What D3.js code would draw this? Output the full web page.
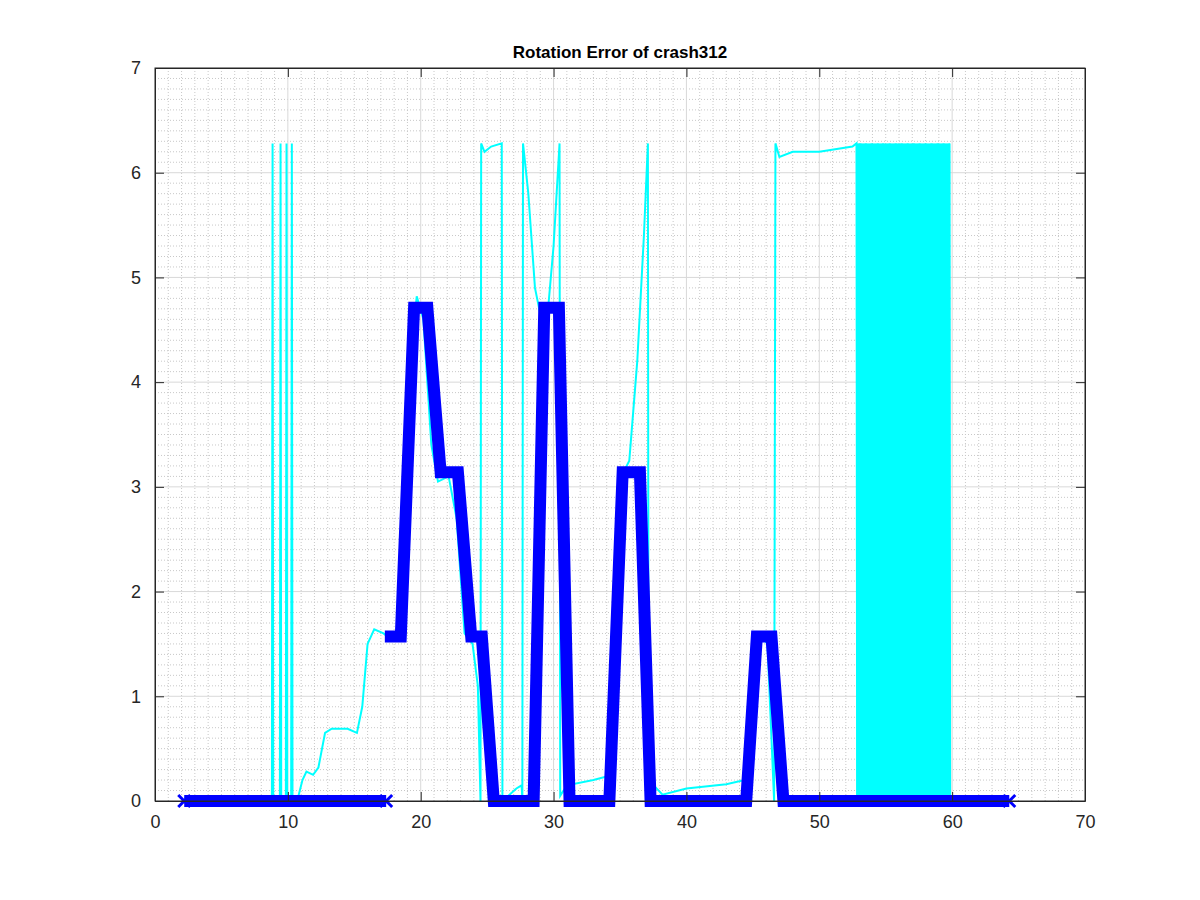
<!DOCTYPE html>
<html><head><meta charset="utf-8">
<script src="https://cdn.jsdelivr.net/npm/d3@7"></script>
<style>body{margin:0;background:#fff}</style></head>
<body><div id="wrapper"></div>
<script>
const title = "Rotation Error of crash312"
const xTicks = [0, 10, 20, 30, 40, 50, 60, 70]
const yTicks = [0, 1, 2, 3, 4, 5, 6, 7]

// reference (blue) - two pieces, gap between them
const refA = [[2.2, 0], [17.4, 0]]
const refB = [[17.3, 1.57], [18.5, 1.57], [19.5, 4.71], [20.5, 4.71], [21.5, 3.14], [22.8, 3.14],
  [23.8, 1.57], [24.6, 1.57], [25.5, 0], [28.5, 0], [29.3, 4.71], [30.4, 4.71], [31.2, 0],
  [34.2, 0], [35.2, 3.14], [36.5, 3.14], [37.3, 0], [44.5, 0], [45.3, 1.57], [46.4, 1.57],
  [47.3, 0], [64.3, 0]]

// estimate (cyan)
const est = [[2.2, 0.03], [8.0, 0.04], [8.8, 0.02], [8.85, 6.28], [8.9, 0.02], [9.4, 0.02], [9.45, 6.28],
  [9.5, 0.02], [9.85, 0.02], [9.9, 6.28], [9.95, 0.02], [10.25, 0.02], [10.3, 6.28], [10.35, 0.02],
  [10.8, 0.05], [11.1, 0.2], [11.4, 0.28], [11.9, 0.25], [12.3, 0.32], [12.8, 0.65], [13.3, 0.69],
  [14.5, 0.69], [15.2, 0.65], [15.6, 0.9], [16.0, 1.5], [16.5, 1.64], [17.2, 1.6], [17.7, 1.55],
  [18.3, 1.62], [18.8, 3.0], [19.3, 4.3], [19.7, 4.82], [20.2, 4.6], [20.8, 3.4], [21.3, 3.05],
  [22.1, 3.1], [22.7, 2.7], [23.3, 1.6], [23.9, 1.5], [24.3, 1.1], [24.5, 0.0], [24.55, 6.28],
  [24.8, 6.2], [25.3, 6.25], [26.1, 6.28], [26.15, 0.02], [26.6, 0.05], [27.2, 0.12], [27.6, 0.15],
  [27.65, 0.0], [27.7, 6.28], [28.1, 5.8], [28.6, 4.9], [29.0, 4.65], [29.6, 4.72], [30.0, 5.3],
  [30.45, 6.28], [30.5, 0.05], [31.0, 0.15], [33.0, 0.2], [34.5, 0.25], [35.1, 3.1], [35.7, 3.25],
  [36.3, 4.2], [36.8, 5.4], [37.1, 6.28], [37.15, 0.1], [37.6, 0.14], [38.2, 0.06], [40.0, 0.12],
  [43.0, 0.16], [44.4, 0.2], [44.9, 1.2], [45.4, 1.6], [46.1, 1.5], [46.5, 0.3], [46.6, 0.0],
  [46.7, 6.28], [47.0, 6.15], [48.0, 6.2], [50.0, 6.2], [52.5, 6.25], [52.8, 6.28],
  [52.85, 0], [53.1, 6.28], [53.3, 0], [53.5, 6.28], [53.7, 0], [53.95, 6.28], [54.2, 0],
  [54.4, 6.28], [54.6, 0], [54.8, 6.28], [55.1, 0], [55.3, 6.28], [55.5, 0], [55.75, 6.28],
  [56.0, 0], [56.2, 6.28], [56.4, 0], [56.65, 6.28], [56.9, 0], [57.1, 6.28], [57.3, 0],
  [57.55, 6.28], [57.8, 0], [58.0, 6.28], [58.2, 0], [58.45, 6.28], [58.7, 0], [58.9, 6.28],
  [59.1, 0], [59.35, 6.28], [59.6, 0], [59.8, 6.28], [59.85, 0], [64.3, 0]]
// filled-looking block of fast switching
const denseBlock = [52.8, 59.85]

const W = 1200, H = 900
const m = {left: 155, right: 1085, top: 68, bottom: 801}
const svg = d3.select("#wrapper").append("svg").attr("width", W).attr("height", H)
  .style("font-family", "Liberation Sans, Arial, sans-serif")

const x = d3.scaleLinear().domain([0, 70]).range([m.left, m.right])
const y = d3.scaleLinear().domain([0, 7]).range([m.bottom, m.top])

// minor grid
const grid = svg.append("g")
grid.selectAll(".mx").data(d3.range(1, 70).filter(d => d % 10)).join("line")
  .attr("x1", d => x(d)).attr("x2", d => x(d)).attr("y1", m.top).attr("y2", m.bottom)
  .attr("stroke", "#c8c8c8").attr("stroke-width", 1).attr("stroke-dasharray", "1 2")
grid.selectAll(".my").data(d3.range(1, 70).filter(d => d % 10).map(d => d / 10)).join("line")
  .attr("y1", d => y(d)).attr("y2", d => y(d)).attr("x1", m.left).attr("x2", m.right)
  .attr("stroke", "#c8c8c8").attr("stroke-width", 1).attr("stroke-dasharray", "1 2")
// major grid
grid.selectAll(".gx").data(xTicks.slice(1, -1)).join("line")
  .attr("x1", d => x(d)).attr("x2", d => x(d)).attr("y1", m.top).attr("y2", m.bottom)
  .attr("stroke", "#d9d9d9")
grid.selectAll(".gy").data(yTicks.slice(1, -1)).join("line")
  .attr("y1", d => y(d)).attr("y2", d => y(d)).attr("x1", m.left).attr("x2", m.right)
  .attr("stroke", "#d9d9d9")

const line = d3.line().x(d => x(d[0])).y(d => y(d[1]))

svg.append("rect").attr("x", x(denseBlock[0])).attr("width", x(denseBlock[1]) - x(denseBlock[0]))
  .attr("y", y(6.28)).attr("height", y(0) - y(6.28)).attr("fill", "#00ffff")
svg.append("path").attr("d", line(est)).attr("fill", "none")
  .attr("stroke", "#00ffff").attr("stroke-width", 2)

for (const seg of [refA, refB]) {
  svg.append("path").attr("d", line(seg)).attr("fill", "none")
    .attr("stroke", "#0000ff").attr("stroke-width", 12).attr("stroke-linejoin", "miter")
}
// x markers at ends of baseline
svg.selectAll(".mk").data([[2.2, 0], [17.4, 0], [64.3, 0]]).join("path")
  .attr("d", d => { const cx = x(d[0]), cy = y(d[1]); return `M${cx-6},${cy-6}L${cx+6},${cy+6}M${cx-6},${cy+6}L${cx+6},${cy-6}` })
  .attr("stroke", "#0000ff").attr("stroke-width", 3)

// box and axes
svg.append("rect").attr("x", m.left).attr("y", m.top).attr("width", m.right - m.left)
  .attr("height", m.bottom - m.top).attr("fill", "none").attr("stroke", "#262626")
svg.append("g").attr("transform", `translate(0,${m.bottom})`)
  .call(d3.axisBottom(x).tickValues(xTicks).tickFormat(d3.format("d")).tickSizeInner(-9).tickSizeOuter(0).tickPadding(14))
svg.append("g").attr("transform", `translate(${m.left},0)`)
  .call(d3.axisLeft(y).tickValues(yTicks).tickFormat(d3.format("d")).tickSizeInner(-9).tickSizeOuter(0).tickPadding(14))
svg.append("g").attr("transform", `translate(0,${m.top})`)
  .call(d3.axisTop(x).tickValues(xTicks).tickSizeInner(-9).tickSizeOuter(0).tickFormat(""))
svg.append("g").attr("transform", `translate(${m.right},0)`)
  .call(d3.axisRight(y).tickValues(yTicks).tickSizeInner(-9).tickSizeOuter(0).tickFormat(""))
svg.selectAll(".domain").attr("stroke", "#262626")
svg.selectAll(".tick line").attr("stroke", "#262626")
svg.selectAll(".tick text").attr("font-size", 18).attr("fill", "#262626")
  .style("font-family", "Liberation Sans, Arial, sans-serif")

svg.append("text").attr("x", (m.left + m.right) / 2).attr("y", 58).attr("text-anchor", "middle")
  .attr("font-size", 17).attr("font-weight", "bold").attr("fill", "#000").text(title)
</script></body></html>
